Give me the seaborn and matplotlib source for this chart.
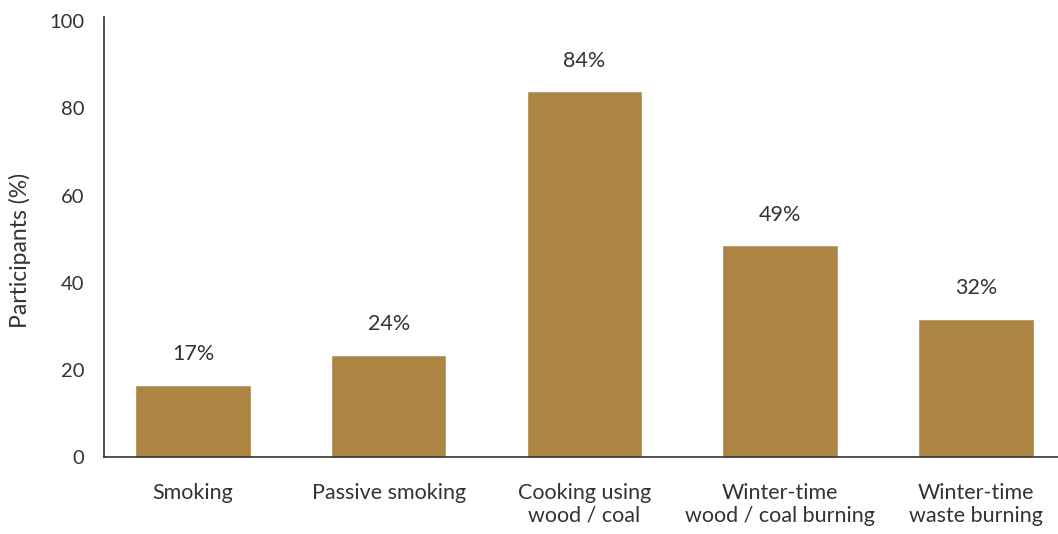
import pandas as pd
import matplotlib
matplotlib.use("Agg")
import matplotlib.pyplot as plt
import seaborn as sns

# Data
categories = ["Smoking", "Passive smoking", "Cooking using\nwood / coal",
              "Winter-time\nwood / coal burning", "Winter-time\nwaste burning"]
participants = [16.6, 23.4, 83.9, 48.6, 31.7]
bar_labels = ["17%", "24%", "84%", "49%", "32%"]
y_ticks = [0, 20, 40, 60, 80, 100]

BAR_COLOR = "#AC8542"
TEXT_COLOR = "#333333"


def main():
    sns.set_theme(style="white")
    plt.rcParams["font.family"] = ["Lato", "DejaVu Sans"]

    df = pd.DataFrame({"Category": categories, "Participants": participants})

    fig = plt.figure(figsize=(10.58, 5.34), dpi=100)
    ax = fig.add_axes([0.0983, 0.1442, 0.9017, 0.824])

    sns.barplot(data=df, x="Category", y="Participants", color=BAR_COLOR,
                width=0.59, saturation=1, ax=ax)

    # value labels above bars
    for bar, lab in zip(ax.patches, bar_labels):
        ax.annotate(lab, (bar.get_x() + bar.get_width() / 2, bar.get_height()),
                    xytext=(0, 22), textcoords="offset points",
                    ha="center", va="center", fontsize=15.5, color=TEXT_COLOR)

    ax.set_xlim(-0.455, 4.42)
    ax.set_ylim(0, 101)
    ax.set_yticks(y_ticks)
    ax.set_ylabel("Participants (%)", fontsize=16.5, color=TEXT_COLOR)
    ax.yaxis.set_label_coords(-0.076, 0.47)
    ax.set_xlabel("")

    ax.tick_params(axis="y", length=0, pad=14, labelsize=14.5, labelcolor=TEXT_COLOR)
    ax.tick_params(axis="x", length=0, pad=19, labelsize=15.5, labelcolor=TEXT_COLOR)
    for t in ax.get_xticklabels():
        t.set_multialignment("center")
        t.set_linespacing(1.15)

    for side in ["top", "right"]:
        ax.spines[side].set_visible(False)
    for side in ["left", "bottom"]:
        ax.spines[side].set_color(TEXT_COLOR)
        ax.spines[side].set_linewidth(1.2)

    fig.savefig("out.png", dpi=100)
    plt.close(fig)


if __name__ == "__main__":
    main()
